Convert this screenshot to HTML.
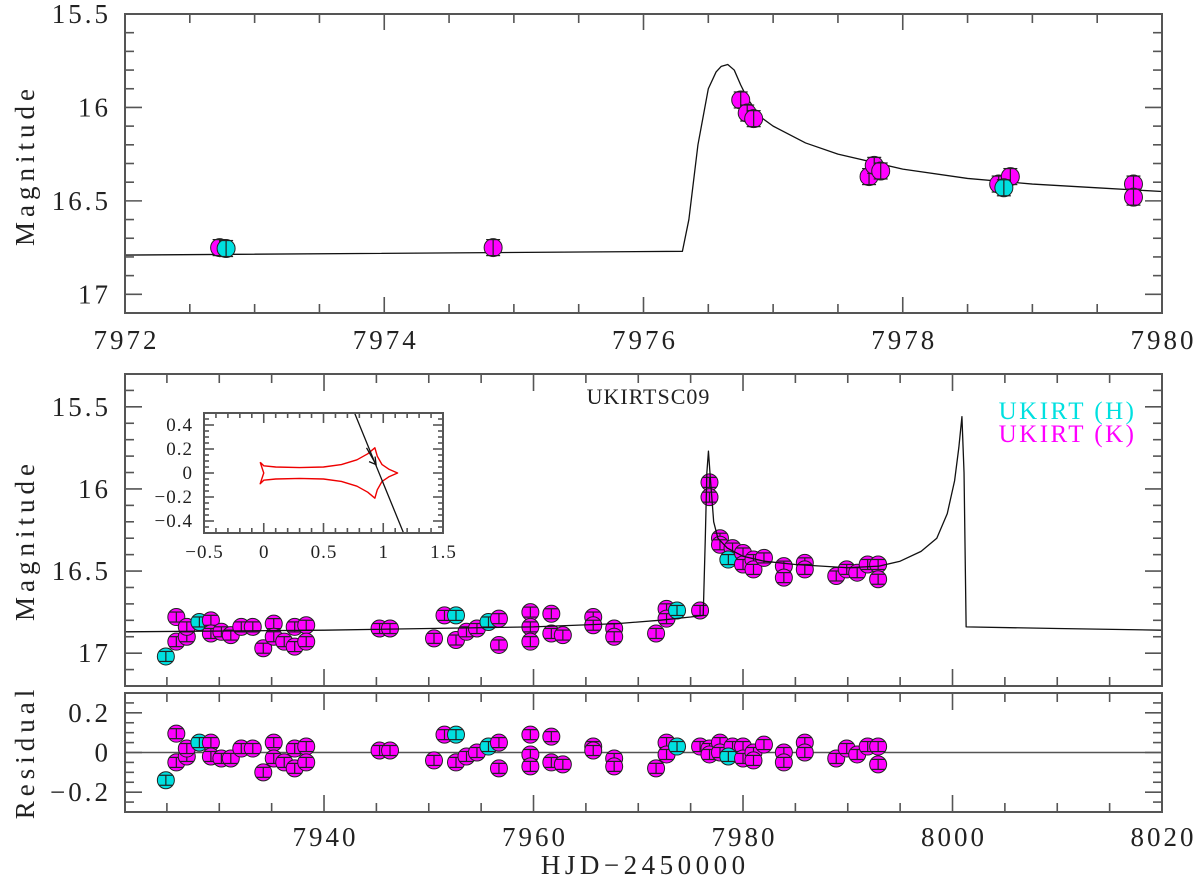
<!DOCTYPE html>
<html><head><meta charset="utf-8">
<style>
html,body{margin:0;padding:0;background:#fff;}
svg{display:block;font-family:"Liberation Serif",serif;}
</style></head>
<body>
<svg id="chart" width="1200" height="887" viewBox="0 0 1200 887" xmlns="http://www.w3.org/2000/svg"></svg>
<script>
// ---------- DATA ----------
const topModelX=[7972,7976.3,7976.35,7976.42,7976.5,7976.56,7976.6,7976.65,7976.7,7976.75,7976.8,7976.9,7977.0,7977.25,7977.5,7978,7978.5,7979,7979.5,7980];
const topModelY=[16.79,16.77,16.6,16.2,15.9,15.81,15.78,15.77,15.8,15.88,15.95,16.05,16.1,16.19,16.25,16.33,16.38,16.41,16.43,16.45];
const topDays=[7972.73,7974.84,7976.75,7976.8,7976.85,7977.74,7977.78,7977.83,7978.74,7978.83,7979.78,7979.78,7972.78,7978.78];
const topMags=[16.75,16.75,15.96,16.03,16.06,16.37,16.31,16.34,16.41,16.37,16.41,16.48,16.755,16.43];
const topBands=["K","K","K","K","K","K","K","K","K","K","K","K","H","H"];

const modelX=[7921,7940,7960,7968,7972,7975,7976.2,7976.4,7976.55,7976.7,7976.9,7977.2,7977.6,7978.5,7980,7982,7985,7990,7993,7995,7997,7998.5,7999.5,8000.2,8000.6,8000.9,8001.1,8001.3,8010,8020];
const modelY=[16.87,16.86,16.84,16.82,16.8,16.78,16.77,16.3,15.9,15.77,15.95,16.2,16.3,16.36,16.41,16.44,16.46,16.48,16.47,16.44,16.38,16.3,16.15,15.95,15.75,15.56,15.9,16.84,16.85,16.86];

const days=[7924.9,7925.9,7925.9,7926.9,7926.9,7928.1,7929.2,7929.2,7930.2,7931.1,7932.1,7933.2,7934.2,7935.2,7935.2,7936.2,7937.2,7937.2,7938.3,7938.3,7945.3,7946.3,7950.5,7951.5,7952.6,7952.6,7953.6,7954.6,7955.7,7956.7,7956.7,7959.7,7959.7,7959.7,7961.7,7961.7,7962.8,7965.7,7965.7,7967.7,7967.7,7971.7,7972.7,7972.7,7973.7,7975.9,
7976.8,7976.8,7977.8,7977.8,7979.0,7978.6,7980.0,7980.0,7981.0,7981.0,7982.0,7983.9,7983.9,7985.9,7985.9,7988.9,7989.9,7990.9,7991.9,7992.9,7992.9];
const mags=[17.02,16.78,16.93,16.9,16.84,16.81,16.8,16.88,16.87,16.89,16.84,16.84,16.97,16.82,16.9,16.93,16.96,16.84,16.83,16.93,16.85,16.85,16.91,16.77,16.77,16.92,16.87,16.85,16.81,16.79,16.95,16.75,16.84,16.93,16.76,16.88,16.89,16.78,16.83,16.85,16.9,16.88,16.73,16.79,16.74,16.74,
15.96,16.05,16.3,16.34,16.36,16.43,16.39,16.46,16.43,16.49,16.42,16.47,16.54,16.45,16.49,16.53,16.49,16.51,16.46,16.46,16.55];
const resids=[-0.14,0.095,-0.05,-0.02,0.02,0.05,0.05,-0.02,-0.03,-0.03,0.02,0.02,-0.1,0.05,-0.03,-0.05,-0.08,0.02,0.03,-0.05,0.01,0.01,-0.04,0.09,0.09,-0.05,-0.02,0.0,0.03,0.05,-0.08,0.09,-0.01,-0.07,0.08,-0.05,-0.06,0.03,0.01,-0.03,-0.07,-0.08,0.05,-0.01,0.03,0.03,
0.02,-0.01,0.05,0.0,0.03,-0.02,0.03,-0.03,0.0,-0.04,0.04,0.0,-0.05,0.05,0.0,-0.03,0.02,-0.01,0.03,0.03,-0.06];
const bands=["H","K","K","K","K","H","K","K","K","K","K","K","K","K","K","K","K","K","K","K","K","K","K","K","H","K","K","K","H","K","K","K","K","K","K","K","K","K","K","K","K","K","K","K","H","K",
"K","K","K","K","K","H","K","K","K","K","K","K","K","K","K","K","K","K","K","K","K"];

const causticX=[-0.03,0.0,0.1,0.3,0.5,0.65,0.78,0.87,0.93,0.95,0.99,1.05,1.12,1.05,0.99,0.95,0.93,0.87,0.78,0.65,0.5,0.3,0.1,0.0,-0.03,0.0,-0.03];
const causticY=[0.09,0.06,0.05,0.045,0.05,0.07,0.11,0.16,0.21,0.14,0.07,0.03,0.0,-0.03,-0.07,-0.14,-0.21,-0.16,-0.11,-0.07,-0.05,-0.045,-0.05,-0.06,-0.09,0.0,0.09];
const trajX=[0.76,1.17];
const trajY=[0.5,-0.5];
const arrowX=[0.86,0.94];
const arrowY=[0.21,0.07];

// ---------- HELPERS ----------
const svg=document.getElementById('chart');
const NS='http://www.w3.org/2000/svg';
function mk(tag,attrs,parent){const e=document.createElementNS(NS,tag);for(const k in attrs)e.setAttribute(k,attrs[k]);(parent||svg).appendChild(e);return e;}
function lin(d0,d1,r0,r1){return v=>r0+(v-d0)/(d1-d0)*(r1-r0);}
const MAG='#ff00ff', CYA='#00e0e0', FR='#555';

function frame(name,x0,y0,x1,y1){
  const r=mk('rect',{x:x0,y:y0,width:x1-x0,height:y1-y0,fill:'none',stroke:FR,'stroke-width':2});
  
  
}
function ticksX(g,sx,y0,y1,from,to,maj,min,majL,minL){
  for(let v=from;v<=to+1e-9;v+=min){
    const isMaj=Math.abs(v/maj-Math.round(v/maj))<1e-6;const L=isMaj?majL:minL;const x=sx(v);
    mk('line',{x1:x,y1:y1,x2:x,y2:y1-L,stroke:FR,'stroke-width':1.6},g);
    mk('line',{x1:x,y1:y0,x2:x,y2:y0+L,stroke:FR,'stroke-width':1.6},g);
  }
}
function ticksY(g,sy,x0,x1,from,to,maj,min,majL,minL){
  for(let v=from;v<=to+1e-9;v+=min){
    const isMaj=Math.abs(v/maj-Math.round(v/maj))<1e-6;const L=isMaj?majL:minL;const y=sy(v);
    mk('line',{x1:x0,y1:y,x2:x0+L,y2:y,stroke:FR,'stroke-width':1.6},g);
    mk('line',{x1:x1,y1:y,x2:x1-L,y2:y,stroke:FR,'stroke-width':1.6},g);
  }
}
function text(str,x,y,size,anchor,name,fill,rot,ls){
  ls=ls||0;
  let xx=x;
  if(anchor==='end')xx=x+ls; else if(!anchor||anchor==='middle')xx=x+ls/2;
  const t=mk('text',{x:xx,y:y,'font-size':size,'text-anchor':anchor||'middle',fill:fill||'#222','letter-spacing':ls});
  if(rot){t.setAttribute('y',y);t.setAttribute('x',x);t.setAttribute('transform','rotate(-90 '+x+' '+y+')');}
  t.textContent=str;
  
  
  return t;
}
function line(xs,ys,sx,sy,name,color,w){
  let d='';for(let i=0;i<xs.length;i++)d+=(i?'L':'M')+sx(xs[i]).toFixed(2)+' '+sy(ys[i]).toFixed(2);
  const p=mk('path',{d:d,fill:'none',stroke:color||'#111','stroke-width':w||1.4,'stroke-linejoin':'round'});
  
  
  return p;
}
function point(x,y,r,err,band,name){
  const g=mk('g',{});
  
  
  mk('circle',{cx:x,cy:y,r:r,fill:band==='H'?CYA:MAG,stroke:'#222','stroke-width':1},g);
  mk('line',{x1:x,y1:y-err,x2:x,y2:y+err,stroke:'#222','stroke-width':1.2},g);
  mk('line',{x1:x-7,y1:y-err,x2:x+7,y2:y-err,stroke:'#222','stroke-width':1.2},g);
  mk('line',{x1:x-7,y1:y+err,x2:x+7,y2:y+err,stroke:'#222','stroke-width':1.2},g);
}
const TS=27, TLS=3, AS=27, ALS=5;

// ---------- TOP PANEL ----------
const TX0=125,TX1=1162,TY0=14,TY1=313;
const tsx=lin(7972,7980,TX0,TX1), tsy=lin(15.5,17.1,TY0,TY1);
const gt=mk('g',{});


ticksX(gt,tsx,TY0,TY1,7972,7980,2,0.5,16,9);
ticksY(gt,tsy,TX0,TX1,15.5,17.1,0.5,0.1,17,9);
['15.5','16','16.5','17'].forEach((s,i)=>text(s,108,tsy(15.5+0.5*i)+9,TS,'end','top-y-tick-label',null,false,TLS));
[7972,7974,7976,7978,7980].forEach(v=>text(String(v),tsx(v),349,TS,'middle','top-x-tick-label',null,false,TLS));
text('Magnitude',34,165,AS,'middle','top-y-axis-title','#222',true,ALS);
line(topModelX,topModelY,tsx,tsy,'top-model-curve','#111',1.3);
for(let i=0;i<topDays.length;i++)point(tsx(topDays[i]),tsy(topMags[i]),9,8,topBands[i],'top-data-point');
frame('top-panel-frame',TX0,TY0,TX1,TY1);

// ---------- MIDDLE PANEL ----------
const MX0=125,MX1=1162,MY0=374,MY1=686;
const sx=lin(7921,8020,MX0,MX1), msy=lin(15.3,17.2,MY0,MY1);
const gm=mk('g',{});


ticksX(gm,sx,MY0,MY1,7925,8020,20,5,17,9);
ticksY(gm,msy,MX0,MX1,15.3,17.2,0.5,0.1,17,9);
['15.5','16','16.5','17'].forEach((s,i)=>text(s,108,msy(15.5+0.5*i)+9,TS,'end','middle-y-tick-label',null,false,TLS));
text('Magnitude',34,540,AS,'middle','middle-y-axis-title','#222',true,ALS);
text('UKIRTSC09',648,404,22,'middle','panel-title',null,false,1);
text('UKIRT (H)',1134,419,25,'end','legend-entry-h',CYA,false,2.5);
text('UKIRT (K)',1134,442,25,'end','legend-entry-k',MAG,false,2.5);
for(let i=0;i<days.length;i++)point(sx(days[i]),msy(mags[i]),8.5,5,bands[i],'data-point');
line(modelX,modelY,sx,msy,'model-curve','#111',1.3);
frame('middle-panel-frame',MX0,MY0,MX1,MY1);

// ---------- INSET ----------
const IX0=204,IX1=443,IY0=413,IY1=533;
const isx=lin(-0.5,1.5,IX0,IX1), isy=lin(0.5,-0.5,IY0,IY1);
mk('rect',{x:IX0,y:IY0,width:IX1-IX0,height:IY1-IY0,fill:'#fff'});
const gi=mk('g',{});


ticksX(gi,isx,IY0,IY1,-0.5,1.5,0.5,0.1,10,5);
ticksY(gi,isy,IX0,IX1,-0.5,0.5,0.2,0.05,10,5);
['0.4','0.2','0','\u22120.2','\u22120.4'].forEach((s,i)=>text(s,192,isy(0.4-0.2*i)+6,19,'end','inset-y-tick-label',null,false,1));
['\u22120.5','0','0.5','1','1.5'].forEach((s,i)=>text(s,isx(-0.5+0.5*i),558,19,'middle','inset-x-tick-label',null,false,1));
line(causticX,causticY,isx,isy,'caustic','#e00',1.4);
line(trajX,trajY,isx,isy,'source-trajectory','#111',1.3);
line(arrowX,arrowY,isx,isy,'trajectory-arrow','#111',1.3);
{const ex=isx(arrowX[1]),ey=isy(arrowY[1]);
 const h=mk('path',{d:`M${ex-7} ${ey-3}L${ex} ${ey}L${ex-1} ${ey-8}`,fill:'none',stroke:'#111','stroke-width':1.3});
 
 }
frame('inset-frame',IX0,IY0,IX1,IY1);

// ---------- RESIDUAL PANEL ----------
const RY0=693,RY1=812;
const rsy=lin(0.3,-0.3,RY0,RY1);
const gr=mk('g',{});


ticksX(gr,sx,RY0,RY1,7925,8020,20,5,17,9);
ticksY(gr,rsy,MX0,MX1,-0.3,0.3,0.2,0.05,17,9);
['0.2','0','\u22120.2'].forEach((s,i)=>text(s,108,rsy(0.2-0.2*i)+9,TS,'end','residual-y-tick-label',null,false,TLS));
text('Residual',34,752,AS,'middle','residual-y-axis-title','#222',true,ALS);
line([7921,8020],[0,0],sx,rsy,'zero-line','#555',1.5);
for(let i=0;i<days.length;i++)point(sx(days[i]),rsy(resids[i]),8.5,5,bands[i],'residual-point');
frame('residual-panel-frame',MX0,RY0,MX1,RY1);
[7940,7960,7980,8000,8020].forEach(v=>text(String(v),sx(v),846,TS,'middle','x-tick-label',null,false,TLS));
text('HJD\u22122450000',643,874,AS,'middle','x-axis-title',null,false,4.5);
</script>
</body></html>
